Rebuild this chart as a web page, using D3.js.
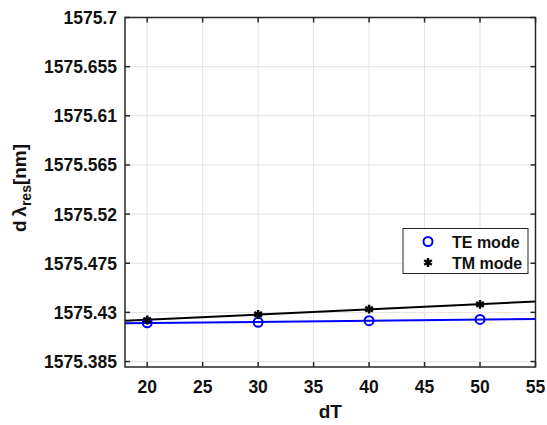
<!DOCTYPE html>
<html>
<head>
<meta charset="utf-8">
<script src="https://cdn.jsdelivr.net/npm/d3@7"></script>
<style>
  body { margin: 0; background: #fff; }
  svg { font-family: "Liberation Sans", Arial, sans-serif; font-weight: bold; }
</style>
</head>
<body>
<svg id="chart" width="547" height="425"></svg>
<script>
var dT = [20, 30, 40, 50];
var teMode = [1575.4205, 1575.4209, 1575.4224, 1575.4236];
var tmMode = [1575.4230, 1575.4282, 1575.4330, 1575.4373];
var xTicks = [20, 25, 30, 35, 40, 45, 50, 55];
var yTicks = [1575.385, 1575.43, 1575.475, 1575.52, 1575.565, 1575.61, 1575.655, 1575.7];
var yTickLabels = ['1575.385', '1575.43', '1575.475', '1575.52', '1575.565', '1575.61', '1575.655', '1575.7'];

var margin = { top: 17.5, left: 125, right: 11.5, bottom: 58 };
var width = 547, height = 425;

var svg = d3.select('#chart');

var x = d3.scaleLinear().domain([18, 55]).range([margin.left, width - margin.right]);
var y = d3.scaleLinear().domain([1575.38, 1575.7]).range([height - margin.bottom, margin.top]);

// grid
var grid = svg.append('g').attr('class', 'grid');
grid.selectAll('.gx').data(xTicks).enter().append('line')
    .attr('x1', function(d){ return x(d); }).attr('x2', function(d){ return x(d); })
    .attr('y1', y.range()[0]).attr('y2', y.range()[1])
    .attr('stroke', '#e3e3e3').attr('stroke-width', 1);
grid.selectAll('.gy').data(yTicks).enter().append('line')
    .attr('y1', function(d){ return y(d); }).attr('y2', function(d){ return y(d); })
    .attr('x1', x.range()[0]).attr('x2', x.range()[1])
    .attr('stroke', '#e3e3e3').attr('stroke-width', 1);

// fitted lines
function fit(xs, ys) {
    var mx = d3.mean(xs), my = d3.mean(ys);
    var num = 0, den = 0;
    for (var i = 0; i < xs.length; i++) {
        num += (xs[i] - mx) * (ys[i] - my);
        den += (xs[i] - mx) * (xs[i] - mx);
    }
    var b = num / den;
    return function(v){ return my + b * (v - mx); };
}

var line = d3.line().x(function(d){ return x(d[0]); }).y(function(d){ return y(d[1]); });
var fitTE = fit(dT, teMode), fitTM = fit(dT, tmMode);
var xs = x.domain();

svg.append('path')
    .attr('d', line(xs.map(function(v){ return [v, fitTE(v)]; })))
    .attr('fill', 'none').attr('stroke', '#0000ff').attr('stroke-width', 2);
svg.append('path')
    .attr('d', line(xs.map(function(v){ return [v, fitTM(v)]; })))
    .attr('fill', 'none').attr('stroke', '#000').attr('stroke-width', 2);

// markers
svg.selectAll('.te').data(dT).enter().append('circle')
    .attr('cx', function(d){ return x(d); })
    .attr('cy', function(d, i){ return y(teMode[i]); })
    .attr('r', 4.5)
    .attr('fill', 'none').attr('stroke', '#0000ff').attr('stroke-width', 2);

var star = d3.symbol().type(d3.symbolAsterisk).size(55);
svg.selectAll('.tm').data(dT).enter().append('path')
    .attr('d', star)
    .attr('transform', function(d, i){ return 'translate(' + x(d) + ',' + y(tmMode[i]) + ')'; })
    .attr('fill', 'none').attr('stroke', '#000').attr('stroke-width', 2.5);

// axes box + ticks
var axisColor = '#262626';
var box = svg.append('g');
box.append('rect')
    .attr('x', x.range()[0]).attr('y', y.range()[1])
    .attr('width', x.range()[1] - x.range()[0])
    .attr('height', y.range()[0] - y.range()[1])
    .attr('fill', 'none').attr('stroke', axisColor).attr('stroke-width', 1.5);

var tl = 5;
xTicks.forEach(function(t){
    box.append('line').attr('x1', x(t)).attr('x2', x(t))
        .attr('y1', y.range()[0]).attr('y2', y.range()[0] - tl)
        .attr('stroke', axisColor).attr('stroke-width', 1.5);
    box.append('line').attr('x1', x(t)).attr('x2', x(t))
        .attr('y1', y.range()[1]).attr('y2', y.range()[1] + tl)
        .attr('stroke', axisColor).attr('stroke-width', 1.5);
    svg.append('text')
        .attr('x', x(t)).attr('y', y.range()[0] + 26)
        .attr('text-anchor', 'middle')
        .style('font-size', '17.5px').style('fill', '#111')
        .text(t);
});
yTicks.forEach(function(t, i){
    box.append('line').attr('y1', y(t)).attr('y2', y(t))
        .attr('x1', x.range()[0]).attr('x2', x.range()[0] + tl)
        .attr('stroke', axisColor).attr('stroke-width', 1.5);
    box.append('line').attr('y1', y(t)).attr('y2', y(t))
        .attr('x1', x.range()[1]).attr('x2', x.range()[1] - tl)
        .attr('stroke', axisColor).attr('stroke-width', 1.5);
    svg.append('text')
        .attr('x', x.range()[0] - 8).attr('y', y(t) + 6.5)
        .attr('text-anchor', 'end')
        .style('font-size', '17.5px').style('fill', '#111')
        .text(yTickLabels[i]);
});

// axis labels
svg.append('text')
    .attr('x', (x.range()[0] + x.range()[1]) / 2).attr('y', 418)
    .attr('text-anchor', 'middle')
    .style('font-size', '19px').style('fill', '#111')
    .text('dT');

var yl = svg.append('text')
    .attr('transform', 'translate(26,' + 188 + ') rotate(-90)')
    .attr('text-anchor', 'middle')
    .style('font-size', '19px').style('fill', '#111');
yl.append('tspan').text('d\u2009\u03bb');
yl.append('tspan').attr('dy', 5).style('font-size', '14px').text('res');
yl.append('tspan').attr('dy', -5).text('[nm]');

// legend
var lg = svg.append('g');
lg.append('rect')
    .attr('x', 403).attr('y', 228.5).attr('width', 125).attr('height', 45)
    .attr('fill', '#fff').attr('stroke', axisColor).attr('stroke-width', 1);
lg.append('circle').attr('cx', 428).attr('cy', 241.5).attr('r', 4.5)
    .attr('fill', 'none').attr('stroke', '#0000ff').attr('stroke-width', 2);
lg.append('path').attr('d', star).attr('transform', 'translate(428,262.5)')
    .attr('fill', 'none').attr('stroke', '#000').attr('stroke-width', 2.5);
lg.append('text').attr('x', 452).attr('y', 247.5)
    .style('font-size', '16px').style('fill', '#111').text('TE mode');
lg.append('text').attr('x', 452).attr('y', 268.5)
    .style('font-size', '16px').style('fill', '#111').text('TM mode');
</script>
</body>
</html>
